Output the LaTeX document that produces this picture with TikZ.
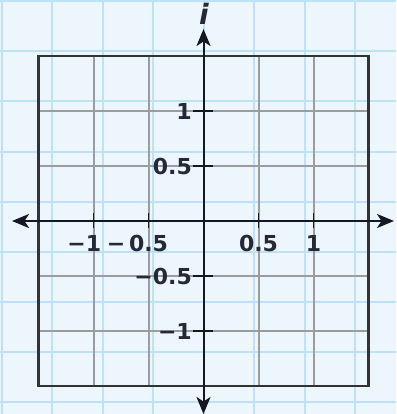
\documentclass[tikz,border=0pt]{standalone}
\usepackage{fontspec}
\setmainfont{DejaVu Sans}
\usetikzlibrary{arrows.meta}
\definecolor{bgblue}{HTML}{EEF6FD}
\definecolor{paperline}{HTML}{BDE2F8}
\definecolor{gridgray}{HTML}{9C9C9C}
\definecolor{framegray}{HTML}{333333}
\definecolor{axiscol}{HTML}{141824}
\definecolor{labcol}{HTML}{262838}
\tikzset{
  paper/.style={draw=paperline, line width=2pt},
  gridln/.style={draw=gridgray, line width=2pt},
  framebox/.style={draw=framegray, line width=2.2pt},
  axisln/.style={draw=axiscol, line width=2pt, {Stealth[length=17pt,width=14pt,inset=4.5pt]}-{Stealth[length=17pt,width=14pt,inset=4.5pt]}},
  tickln/.style={draw=axiscol, line width=1.7pt},
  ticklab/.style={inner sep=0pt, text=labcol, font=\fontsize{22}{22}\selectfont\bfseries},
}
\begin{document}
\begin{tikzpicture}[x=1pt,y=-1pt]
\useasboundingbox (0,0) rectangle (396,414);
\fill[bgblue] (0,0) rectangle (396,414);
% paper grid
\foreach \k in {0,...,7} {\draw[paper] ({1.5+50.5*\k},0) -- ({1.5+50.5*\k},414);}
\foreach \k in {0,...,8} {\draw[paper] (0,{1.5+50*\k}) -- (396,{1.5+50*\k});}
% gray grid
\foreach \x in {93.5,148.5,258.5,313.5} {\draw[gridln] (\x,56) -- (\x,386);}
\foreach \y in {111,166,276,331} {\draw[gridln] (38.5,\y) -- (368.5,\y);}
\draw[framebox] (38.5,56) rectangle (368.5,386);
% axes
\coordinate (xl) at (12,221);
\coordinate (xr) at (394,221);
\coordinate (yt) at (203.5,29);
\coordinate (yb) at (203.5,414);
\draw[axisln] (xl) -- (xr);
\draw[axisln] (yb) -- (yt);
% ticks
\foreach \x in {93.5,148.5,258.5,313.5} {\draw[tickln] (\x,213) -- (\x,228);}
\foreach \y in {111,166,276,331} {\draw[tickln] (193,\y) -- (213,\y);}
% labels
\node[ticklab, anchor=north] (xm1) at (93.5,235) {\llap{−}1};
\node[ticklab, anchor=north] (xm05) at (148.5,235) {\llap{−\,}0.5};
\node[ticklab, anchor=north] (xp05) at (258.5,235) {0.5};
\node[ticklab, anchor=north] (xp1) at (313.5,235) {1};
\node[ticklab, anchor=east] (yp1) at (192,111) {1};
\node[ticklab, anchor=east] (yp05) at (192,166) {0.5};
\node[ticklab, anchor=east] (ym05) at (192,276) {−0.5};
\node[ticklab, anchor=east] (ym1) at (192,331) {−1};
\node[inner sep=0pt, text=labcol, anchor=base, font=\fontsize{28}{28}\selectfont\bfseries\itshape] (ilab) at (204,25) {i};
\end{tikzpicture}
\end{document}
